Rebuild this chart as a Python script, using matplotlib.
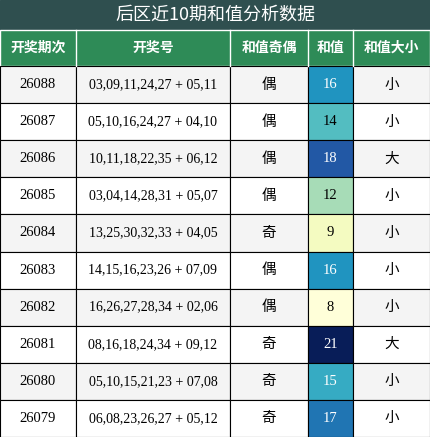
import matplotlib
matplotlib.use('Agg')
import matplotlib.pyplot as plt
from matplotlib.patches import Rectangle
from matplotlib import colors

plt.rcParams['font.family'] = ['Noto Sans CJK SC', 'DejaVu Sans']

title = '后区近10期和值分析数据'
headers = ['开奖期次', '开奖号', '和值奇偶', '和值', '和值大小']
periods = ['26088', '26087', '26086', '26085', '26084', '26083', '26082', '26081', '26080', '26079']
numbers = ['03,09,11,24,27 + 05,11', '05,10,16,24,27 + 04,10', '10,11,18,22,35 + 06,12',
           '03,04,14,28,31 + 05,07', '13,25,30,32,33 + 04,05', '14,15,16,23,26 + 07,09',
           '16,26,27,28,34 + 02,06', '08,16,18,24,34 + 09,12', '05,10,15,21,23 + 07,08',
           '06,08,23,26,27 + 05,12']
parity = ['偶', '偶', '偶', '偶', '奇', '偶', '偶', '奇', '奇', '奇']
sums = [16, 14, 18, 12, 9, 16, 8, 21, 15, 17]
size = ['小', '小', '大', '小', '小', '小', '小', '大', '小', '小']

W, H = 430, 437
col_x = [0, 76, 230, 308, 353, 430]
title_h, head_h = 30, 36
row_h = (H - title_h - head_h) / len(periods)

fig = plt.figure(figsize=(W / 100, H / 100), dpi=100)
ax = fig.add_axes([0, 0, 1, 1])
ax.set_xlim(0, W)
ax.set_ylim(H, 0)
ax.axis('off')

ax.add_patch(Rectangle((0, 0), W, title_h, color='#2f4f4f'))
ax.text(W / 2, title_h / 2, title, color='white', fontsize=13, ha='center', va='center')

ax.add_patch(Rectangle((0, title_h), W, head_h, facecolor='#2e8b57', edgecolor='white', lw=1))
for i, h in enumerate(headers):
    cx = (col_x[i] + col_x[i + 1]) / 2
    if i > 0:
        ax.plot([col_x[i]] * 2, [title_h, title_h + head_h], color='white', lw=1)
    ax.text(cx, title_h + head_h / 2, h, color='white', fontsize=10, weight='bold', ha='center', va='center')

cmap = plt.get_cmap('YlGnBu')
norm = colors.Normalize(vmin=8, vmax=21)
serif = ['Liberation Serif', 'DejaVu Serif']
for r in range(len(periods)):
    y0 = title_h + head_h + r * row_h
    bg = '#f4f4f4' if r % 2 == 0 else 'white'
    vals = [periods[r], numbers[r], parity[r], str(sums[r]), size[r]]
    for c in range(5):
        x0, x1 = col_x[c], col_x[c + 1]
        fc = bg
        tc = 'black'
        if c == 3:
            fc = cmap(norm(sums[r]))
            tc = 'white' if sums[r] >= 15 else 'black'
        ax.add_patch(Rectangle((x0, y0), x1 - x0, row_h, facecolor=fc, edgecolor='black', lw=0.8))
        fam = serif if c in (0, 1, 3) else ['Noto Sans CJK SC', 'DejaVu Sans']
        ax.text((x0 + x1) / 2, y0 + row_h / 2, vals[c], color=tc, fontsize=10.5 if c != 1 else 10,
                family=fam, ha='center', va='center')

fig.savefig('out.png', dpi=100)
